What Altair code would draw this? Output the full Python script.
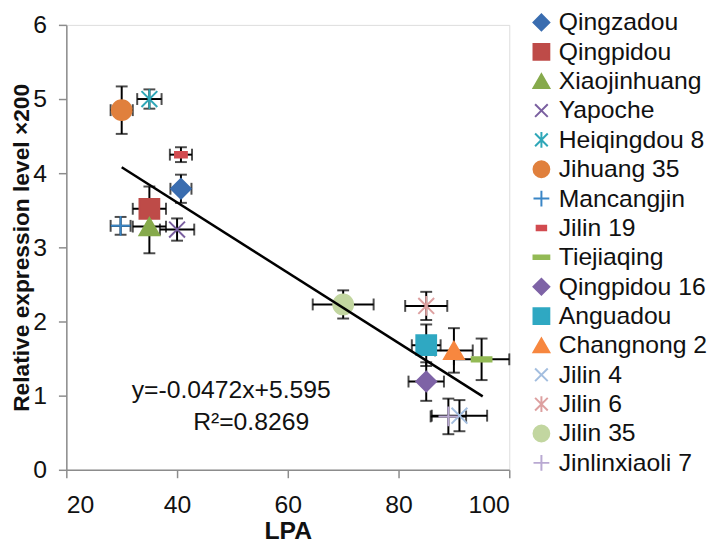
import altair as alt
import pandas as pd

varieties = ["Qingzadou", "Qingpidou", "Xiaojinhuang", "Yapoche", "Heiqingdou 8",
             "Jihuang 35", "Mancangjin", "Jilin 19", "Tiejiaqing", "Qingpidou 16",
             "Anguadou", "Changnong 2", "Jilin 4", "Jilin 6", "Jilin 35", "Jinlinxiaoli 7"]
lpa = [40.7, 35.0, 35.0, 40.0, 35.0, 30.0, 29.8, 40.7, 95.0, 85.0, 85.0, 90.0, 91.0, 85.0, 70.0, 89.0]
lpa_err = [1.9, 3.0, 3.0, 3.1, 2.2, 2.0, 1.8, 2.0, 5.0, 3.2, 2.6, 3.4, 5.0, 3.8, 5.5, 3.2]
expr = [3.79, 3.52, 3.28, 3.24, 5.00, 4.85, 3.29, 4.25, 1.49, 1.19, 1.68, 1.61, 0.73, 2.21, 2.23, 0.72]
expr_err = [0.19, 0.30, 0.36, 0.15, 0.13, 0.32, 0.12, 0.10, 0.28, 0.26, 0.28, 0.30, 0.21, 0.19, 0.19, 0.24]

trend_x = [30.0, 95.2]
trend_y = [4.08, 0.99]

eq_text = ["y=-0.0472x+5.595", "R\u00b2=0.8269"]
eq_x = [31.8, 42.9]
eq_y = [1.07, 0.65]

colors = ["#3A6DB0", "#BE4B48", "#86AA4C", "#7A5FA0", "#2FA7B8", "#E0803D",
          "#3A86C6", "#D24B50", "#93BA55", "#7E63A6", "#2FA8C2", "#F7873F",
          "#A3BEDF", "#DDA0A0", "#C2D6A0", "#B9A9D2"]
shapes = [
    "diamond", "square", "triangle-up",
    "M-0.8,-0.8L0.8,0.8M-0.8,0.8L0.8,-0.8",
    "M-0.8,-0.8L0.8,0.8M-0.8,0.8L0.8,-0.8M0,-1L0,1",
    "circle",
    "M-1,0L1,0M0,-1L0,1",
    "M-0.6,-0.28H0.6V0.28H-0.6Z",
    "M-1,-0.22H1V0.22H-1Z",
    "diamond", "square", "triangle-up",
    "M-0.8,-0.8L0.8,0.8M-0.8,0.8L0.8,-0.8",
    "M-0.8,-0.8L0.8,0.8M-0.8,0.8L0.8,-0.8M0,-1L0,1",
    "circle",
    "M-1,0L1,0M0,-1L0,1",
]

df = pd.DataFrame({"variety": varieties, "lpa": lpa, "lpa_err": lpa_err,
                   "expr": expr, "expr_err": expr_err})
df["xlo"] = df["lpa"] - df["lpa_err"]
df["xhi"] = df["lpa"] + df["lpa_err"]
df["ylo"] = df["expr"] - df["expr_err"]
df["yhi"] = df["expr"] + df["expr_err"]

trend = pd.DataFrame({"x": trend_x, "y": trend_y})
eq = pd.DataFrame({"text": eq_text, "x": eq_x, "y": eq_y})

FONT = "Liberation Sans"
xscale = alt.Scale(domain=[20, 100], nice=False, zero=False)
yscale = alt.Scale(domain=[0, 6], nice=False)

xaxis = alt.Axis(values=[20, 40, 60, 80, 100], title="LPA", grid=False, format="d",
                 labelFontSize=25, labelFont=FONT, labelColor="#111",
                 titleFontSize=25, titleFont=FONT, titleFontWeight="bold", titleColor="#111",
                 domainColor="#8c8c8c", tickColor="#8c8c8c", tickSize=8, domainWidth=1.5,
                 tickWidth=1.5, labelPadding=15, titlePadding=1)
yaxis = alt.Axis(values=[0, 1, 2, 3, 4, 5, 6], title="Relative expression level \u00d7200",
                 grid=False, format="d", labelFontSize=25, labelFont=FONT, labelColor="#111",
                 titleFontSize=23, titleFont=FONT, titleFontWeight="bold", titleColor="#111",
                 domainColor="#8c8c8c", tickColor="#8c8c8c", tickSize=8, domainWidth=1.5,
                 tickWidth=1.5, labelPadding=12, titlePadding=-1)

base = alt.Chart(df)

hbar = base.mark_rule(color="black", strokeWidth=2).encode(
    x=alt.X("xlo:Q", scale=xscale, axis=xaxis), x2="xhi:Q",
    y=alt.Y("expr:Q", scale=yscale, axis=yaxis))
vbar = base.mark_rule(color="black", strokeWidth=2).encode(
    x=alt.X("lpa:Q", scale=xscale), y=alt.Y("ylo:Q", scale=yscale), y2="yhi:Q")
capx1 = base.mark_tick(color="black", orient="vertical", size=12, thickness=2).encode(
    x=alt.X("xlo:Q", scale=xscale), y=alt.Y("expr:Q", scale=yscale))
capx2 = base.mark_tick(color="black", orient="vertical", size=12, thickness=2).encode(
    x=alt.X("xhi:Q", scale=xscale), y=alt.Y("expr:Q", scale=yscale))
capy1 = base.mark_tick(color="black", orient="horizontal", size=12, thickness=2).encode(
    x=alt.X("lpa:Q", scale=xscale), y=alt.Y("ylo:Q", scale=yscale))
capy2 = base.mark_tick(color="black", orient="horizontal", size=12, thickness=2).encode(
    x=alt.X("lpa:Q", scale=xscale), y=alt.Y("yhi:Q", scale=yscale))

legend = alt.Legend(title=None, orient="none", legendX=468, legendY=-15,
                    labelFontSize=25, labelFont=FONT, labelColor="#111",
                    symbolSize=256, symbolStrokeWidth=2, rowPadding=3.7, labelOffset=5,
                    labelLimit=200)
cscale = alt.Scale(domain=varieties, range=colors)
points = base.mark_point(opacity=1, strokeWidth=2, size=400).encode(
    x=alt.X("lpa:Q", scale=xscale),
    y=alt.Y("expr:Q", scale=yscale),
    color=alt.Color("variety:N", scale=cscale, legend=legend, sort=varieties),
    fill=alt.Fill("variety:N", scale=cscale, legend=legend, sort=varieties),
    shape=alt.Shape("variety:N", scale=alt.Scale(domain=varieties, range=shapes),
                    legend=legend, sort=varieties),
)

line = alt.Chart(trend).mark_line(color="black", strokeWidth=2.5).encode(
    x=alt.X("x:Q", scale=xscale), y=alt.Y("y:Q", scale=yscale))

eqtext = alt.Chart(eq).mark_text(fontSize=25, font=FONT, color="#111", align="left").encode(
    x=alt.X("x:Q", scale=xscale), y=alt.Y("y:Q", scale=yscale), text="text:N")

chart = alt.layer(hbar, vbar, capx1, capx2, capy1, capy2, points, line, eqtext).properties(
    width=448, height=450,
    autosize=alt.AutoSizeParams(type="none"),
    padding={"left": 59, "top": 14, "right": 202, "bottom": 75},
).configure_view(stroke=None).configure(background="white")

chart.save("out.html", embed_options={"renderer": "svg", "actions": False})
